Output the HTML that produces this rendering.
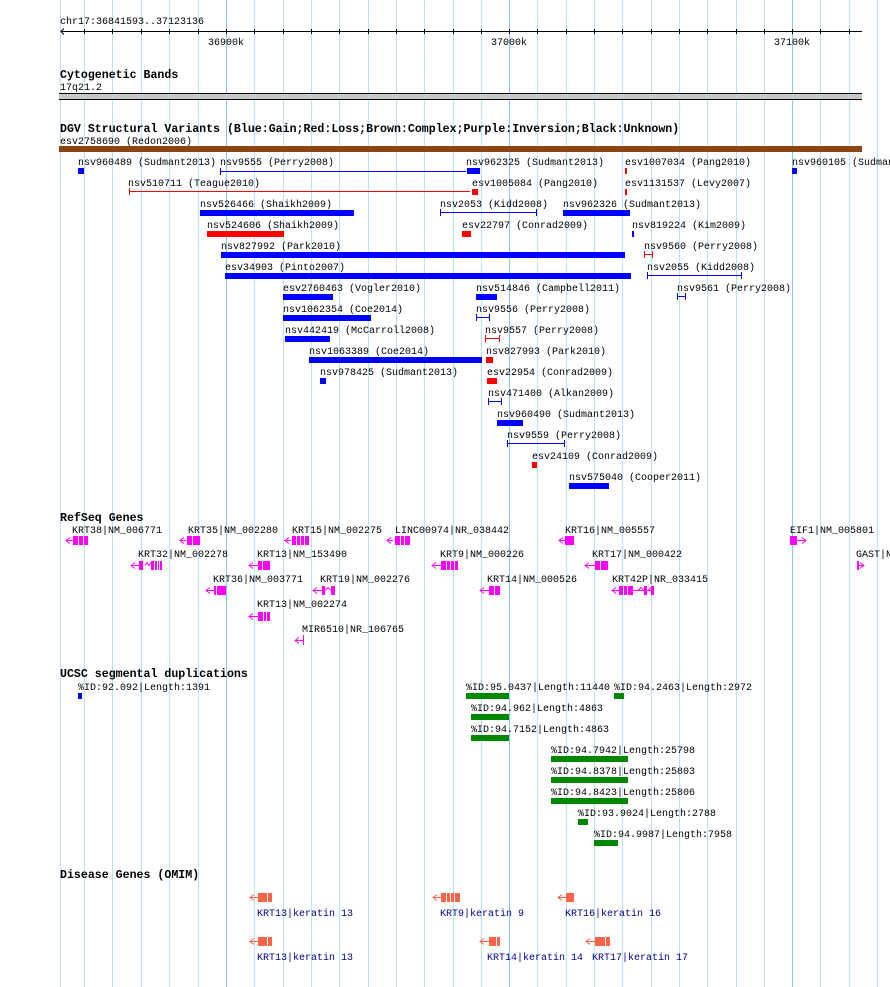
<!DOCTYPE html>
<html><head><meta charset="utf-8"><style>
html,body{margin:0;padding:0;background:#fff;}
svg{display:block;}
text{font-family:"Liberation Mono",monospace;font-size:10px;fill:#000;}
.b{font-weight:bold;font-size:11.6px;}
.d{fill:#00008b;}
</style></head><body>
<svg width="890" height="987" viewBox="0 0 890 987" xmlns="http://www.w3.org/2000/svg">
<g stroke="#b4e8ee" stroke-width="1">
<line x1="60.5" y1="0" x2="60.5" y2="987"/>
<line x1="84.5" y1="0" x2="84.5" y2="987"/><line x1="112.5" y1="0" x2="112.5" y2="987"/><line x1="141.5" y1="0" x2="141.5" y2="987"/><line x1="169.5" y1="0" x2="169.5" y2="987"/><line x1="198.5" y1="0" x2="198.5" y2="987"/>
<line x1="254.5" y1="0" x2="254.5" y2="987"/><line x1="283.5" y1="0" x2="283.5" y2="987"/><line x1="311.5" y1="0" x2="311.5" y2="987"/><line x1="339.5" y1="0" x2="339.5" y2="987"/><line x1="368.5" y1="0" x2="368.5" y2="987"/><line x1="396.5" y1="0" x2="396.5" y2="987"/><line x1="424.5" y1="0" x2="424.5" y2="987"/><line x1="453.5" y1="0" x2="453.5" y2="987"/><line x1="481.5" y1="0" x2="481.5" y2="987"/>
<line x1="537.5" y1="0" x2="537.5" y2="987"/><line x1="566.5" y1="0" x2="566.5" y2="987"/><line x1="594.5" y1="0" x2="594.5" y2="987"/><line x1="622.5" y1="0" x2="622.5" y2="987"/><line x1="651.5" y1="0" x2="651.5" y2="987"/><line x1="679.5" y1="0" x2="679.5" y2="987"/><line x1="707.5" y1="0" x2="707.5" y2="987"/><line x1="736.5" y1="0" x2="736.5" y2="987"/><line x1="764.5" y1="0" x2="764.5" y2="987"/>
<line x1="820.5" y1="0" x2="820.5" y2="987"/><line x1="849.5" y1="0" x2="849.5" y2="987"/><line x1="877.5" y1="0" x2="877.5" y2="987"/>
</g>
<g stroke="#88c8e8" stroke-width="1">
<line x1="226.5" y1="0" x2="226.5" y2="987"/><line x1="509.5" y1="0" x2="509.5" y2="987"/><line x1="792.5" y1="0" x2="792.5" y2="987"/>
</g>

<!-- ruler -->
<text x="60" y="24">chr17:36841593..37123136</text>
<g stroke="#000" stroke-width="1" fill="none">
<line x1="61" y1="31.5" x2="862" y2="31.5"/>
<path d="M64 28.5 L61 31.5 L64 34.5"/>
<path d="M84.5 29v5M112.5 29v5M141.5 29v5M169.5 29v5M198.5 29v5M226.5 29v5M254.5 29v5M283.5 29v5M311.5 29v5M339.5 29v5M368.5 29v5M396.5 29v5M424.5 29v5M453.5 29v5M481.5 29v5M509.5 29v5M537.5 29v5M566.5 29v5M594.5 29v5M622.5 29v5M651.5 29v5M679.5 29v5M707.5 29v5M736.5 29v5M764.5 29v5M792.5 29v5M820.5 29v5M849.5 29v5"/>
</g>
<text x="208" y="45">36900k</text><text x="491" y="45">37000k</text><text x="774" y="45">37100k</text>

<!-- cytogenetic -->
<text class="b" x="60" y="78">Cytogenetic Bands</text>
<text x="60" y="90">17q21.2</text>
<rect x="59" y="93" width="803" height="7" fill="#c8c8c8"/>
<line x1="59" y1="93.5" x2="862" y2="93.5" stroke="#000"/><line x1="59" y1="99.5" x2="862" y2="99.5" stroke="#000"/>

<!-- DGV -->
<text class="b" x="60" y="132">DGV Structural Variants (Blue:Gain;Red:Loss;Brown:Complex;Purple:Inversion;Black:Unknown)</text>
<text x="60" y="144">esv2758690 (Redon2006)</text>
<rect x="59" y="146" width="803" height="6" fill="#8b4513"/>

<g>
<text x="78" y="165">nsv960489 (Sudmant2013)</text><rect x="78" y="168" width="6" height="6" fill="#00f"/>
<text x="220" y="165">nsv9555 (Perry2008)</text>
<text x="466" y="165">nsv962325 (Sudmant2013)</text><rect x="467" y="168" width="13" height="6" fill="#00f"/>
<text x="625" y="165">esv1007034 (Pang2010)</text><rect x="625" y="168" width="2" height="6" fill="#f00"/>
<text x="792" y="165">nsv960105 (Sudmant2013)</text><rect x="792" y="168" width="5" height="6" fill="#00f"/>

<text x="128" y="186">nsv510711 (Teague2010)</text>
<text x="472" y="186">esv1005084 (Pang2010)</text><rect x="472" y="189" width="6" height="6" fill="#f00"/>
<text x="625" y="186">esv1131537 (Levy2007)</text><rect x="625" y="189" width="2" height="6" fill="#f00"/>

<text x="200" y="207">nsv526466 (Shaikh2009)</text><rect x="200" y="210" width="154" height="6" fill="#00f"/>
<text x="440" y="207">nsv2053 (Kidd2008)</text>
<text x="563" y="207">nsv962326 (Sudmant2013)</text><rect x="563" y="210" width="67" height="6" fill="#00f"/>

<text x="207" y="228">nsv524606 (Shaikh2009)</text><rect x="207" y="231" width="77" height="6" fill="#f00"/>
<text x="462" y="228">esv22797 (Conrad2009)</text><rect x="462" y="231" width="9" height="6" fill="#f00"/>
<text x="632" y="228">nsv819224 (Kim2009)</text><rect x="632" y="231" width="2" height="6" fill="#00f"/>

<text x="221" y="249">nsv827992 (Park2010)</text><rect x="221" y="252" width="404" height="6" fill="#00f"/>
<text x="644" y="249">nsv9560 (Perry2008)</text>

<text x="225" y="270">esv34903 (Pinto2007)</text><rect x="225" y="273" width="406" height="6" fill="#00f"/>
<text x="647" y="270">nsv2055 (Kidd2008)</text>

<text x="283" y="291">esv2760463 (Vogler2010)</text><rect x="283" y="294" width="50" height="6" fill="#00f"/>
<text x="476" y="291">nsv514846 (Campbell2011)</text><rect x="476" y="294" width="21" height="6" fill="#00f"/>
<text x="677" y="291">nsv9561 (Perry2008)</text>

<text x="283" y="312">nsv1062354 (Coe2014)</text><rect x="283" y="315" width="88" height="6" fill="#00f"/>
<text x="476" y="312">nsv9556 (Perry2008)</text>

<text x="285" y="333">nsv442419 (McCarroll2008)</text><rect x="285" y="336" width="45" height="6" fill="#00f"/>
<text x="485" y="333">nsv9557 (Perry2008)</text>

<text x="309" y="354">nsv1063389 (Coe2014)</text><rect x="309" y="357" width="173" height="6" fill="#00f"/>
<text x="486" y="354">nsv827993 (Park2010)</text><rect x="486" y="357" width="7" height="6" fill="#f00"/>

<text x="320" y="375">nsv978425 (Sudmant2013)</text><rect x="320" y="378" width="6" height="6" fill="#00f"/>
<text x="487" y="375">esv22954 (Conrad2009)</text><rect x="487" y="378" width="10" height="6" fill="#f00"/>

<text x="488" y="396">nsv471400 (Alkan2009)</text>
<text x="497" y="417">nsv960490 (Sudmant2013)</text><rect x="497" y="420" width="26" height="6" fill="#00f"/>
<text x="507" y="438">nsv9559 (Perry2008)</text>
<text x="532" y="459">esv24109 (Conrad2009)</text><rect x="532" y="462" width="5" height="6" fill="#f00"/>
<text x="569" y="480">nsv575040 (Cooper2011)</text><rect x="569" y="483" width="40" height="6" fill="#00f"/>
</g>
<!-- line features -->
<g stroke-width="1" fill="none">
<path stroke="#00f" d="M220 171.5H466M220.5 168v7"/>
<path stroke="#f00" d="M129 191.5H470M129.5 188v7"/>
<path stroke="#00f" d="M440 212.5H537M440.5 209v7M536.5 209v7"/>
<path stroke="#f00" d="M644 254.5H653M644.5 251v7M652.5 251v7"/>
<path stroke="#00f" d="M647 275.5H742M647.5 272v7M741.5 272v7"/>
<path stroke="#00f" d="M677 296.5H686M677.5 293v7M685.5 293v7"/>
<path stroke="#00f" d="M476 317.5H490M476.5 314v7M489.5 314v7"/>
<path stroke="#f00" d="M485 338.5H500M485.5 335v7M499.5 335v7"/>
<path stroke="#00f" d="M488 401.5H502M488.5 398v7M501.5 398v7"/>
<path stroke="#00f" d="M507 443.5H565M507.5 440v7M564.5 440v7"/>
</g>

<!-- RefSeq -->
<text class="b" x="60" y="521">RefSeq Genes</text>
<g>
<text x="72" y="533">KRT38|NM_006771</text><text x="188" y="533">KRT35|NM_002280</text><text x="292" y="533">KRT15|NM_002275</text><text x="395" y="533">LINC00974|NR_038442</text><text x="565" y="533">KRT16|NM_005557</text><text x="790" y="533">EIF1|NM_005801</text>
<text x="138" y="557">KRT32|NM_002278</text><text x="257" y="557">KRT13|NM_153490</text><text x="440" y="557">KRT9|NM_000226</text><text x="592" y="557">KRT17|NM_000422</text><text x="856" y="557">GAST|NM_000805</text>
<text x="213" y="582">KRT36|NM_003771</text><text x="320" y="582">KRT19|NM_002276</text><text x="487" y="582">KRT14|NM_000526</text><text x="612" y="582">KRT42P|NR_033415</text>
<text x="257" y="607">KRT13|NM_002274</text>
<text x="302" y="632">MIR6510|NR_106765</text>
</g>
<g stroke="#f0f" fill="none" stroke-width="1">
<path d="M70 537.5L66 540.5L70 543.5M66 540.5H73"/>
<path d="M184 537.5L180 540.5L184 543.5M180 540.5H186"/>
<path d="M289 537.5L285 540.5L289 543.5M285 540.5H291"/>
<path d="M391 537.5L387 540.5L391 543.5M387 540.5H393"/>
<path d="M563 537.5L559 540.5L563 543.5M559 540.5H565"/>
<path d="M802 537.5L806 540.5L802 543.5M790 540.5H806"/>
<path d="M135 562.5L131 565.5L135 568.5M131 565.5H139"/>
<path d="M253 562.5L249 565.5L253 568.5M249 565.5H258"/>
<path d="M436 562.5L432 565.5L436 568.5M432 565.5H441"/>
<path d="M589 562.5L585 565.5L589 568.5M585 565.5H595"/>
<path d="M860 562.5L864 565.5L860 568.5M857 565.5H864"/>
<path d="M210 587.5L206 590.5L210 593.5M206 590.5H214"/>
<path d="M317 587.5L313 590.5L317 593.5M313 590.5H322"/>
<path d="M484 587.5L480 590.5L484 593.5M480 590.5H489"/>
<path d="M616 587.5L612 590.5L616 593.5M612 590.5H654"/>
<path d="M253 613.5L249 616.5L253 619.5M249 616.5H258"/>
<path d="M299 637.5L295 640.5L299 643.5M295 640.5H304"/>
<path d="M145 565.5l2-3l2 3l2-3M638 590.5l3-3l3 3M648 590.5l3-3l3 3M325 590.5l3-3l3 3"/>
</g>
<g fill="#f0f">
<rect x="73" y="536" width="15" height="9"/>
<rect x="187" y="536" width="13" height="9"/>
<rect x="292" y="536" width="17" height="9"/>
<rect x="395" y="536" width="15" height="9"/>
<rect x="565" y="536" width="9" height="9"/>
<rect x="790" y="536" width="7" height="9"/>
<rect x="139" y="561" width="4" height="9"/><rect x="151" y="561" width="11" height="9"/>
<rect x="258" y="561" width="12" height="9"/>
<rect x="441" y="561" width="17" height="9"/>
<rect x="595" y="561" width="13" height="9"/>
<rect x="857" y="561" width="2" height="9"/>
<rect x="214" y="586" width="12" height="9"/>
<rect x="322" y="586" width="3" height="9"/><rect x="331" y="586" width="4" height="9"/>
<rect x="489" y="586" width="11" height="9"/>
<rect x="619" y="586" width="14" height="9"/><rect x="644" y="586" width="3" height="9"/><rect x="651" y="586" width="3" height="9"/>
<rect x="258" y="612" width="12" height="9"/>
<rect x="303" y="635" width="1" height="10"/>
</g>
<g stroke="#fff" stroke-width="1">
<path d="M78.5 536v9M83.5 536v9M192.5 536v9M296.5 536v9M300.5 536v9M304.5 536v9M400.5 536v9M404.5 536v9M154.5 561v9M157.5 561v9M159.5 561v9M262.5 561v9M446.5 561v9M450.5 561v9M454.5 561v9M600.5 561v9M216.5 586v9M494.5 586v9M623.5 586v9M627.5 586v9M263.5 612v9M266.5 612v9"/>
</g>

<!-- UCSC seg dups -->
<text class="b" x="60" y="677">UCSC segmental duplications</text>
<g>
<text x="78" y="690">%ID:92.092|Length:1391</text><rect x="78" y="693" width="4" height="6" fill="#00f"/>
<text x="466" y="690">%ID:95.0437|Length:11440</text><rect x="466" y="693" width="43" height="6" fill="#080"/>
<text x="614" y="690">%ID:94.2463|Length:2972</text><rect x="614" y="693" width="10" height="6" fill="#080"/>
<text x="471" y="711">%ID:94.962|Length:4863</text><rect x="471" y="714" width="38" height="6" fill="#080"/>
<text x="471" y="732">%ID:94.7152|Length:4863</text><rect x="471" y="735" width="38" height="6" fill="#080"/>
<text x="551" y="753">%ID:94.7942|Length:25798</text><rect x="551" y="756" width="77" height="6" fill="#080"/>
<text x="551" y="774">%ID:94.8378|Length:25803</text><rect x="551" y="777" width="77" height="6" fill="#080"/>
<text x="551" y="795">%ID:94.8423|Length:25806</text><rect x="551" y="798" width="77" height="6" fill="#080"/>
<text x="578" y="816">%ID:93.9024|Length:2788</text><rect x="578" y="819" width="10" height="6" fill="#080"/>
<text x="594" y="837">%ID:94.9987|Length:7958</text><rect x="594" y="840" width="24" height="6" fill="#080"/>
</g>

<!-- Disease -->
<text class="b" x="60" y="878">Disease Genes (OMIM)</text>
<g>
<text class="d" x="257" y="916">KRT13|keratin 13</text><text class="d" x="440" y="916">KRT9|keratin 9</text><text class="d" x="565" y="916">KRT16|keratin 16</text>
<text class="d" x="257" y="960">KRT13|keratin 13</text><text class="d" x="487" y="960">KRT14|keratin 14</text><text class="d" x="592" y="960">KRT17|keratin 17</text>
</g>
<g stroke="#ff6347" fill="none">
<path d="M254 894.5L250 897.5L254 900.5M250 897.5H258"/>
<path d="M437 894.5L433 897.5L437 900.5M433 897.5H441"/>
<path d="M562 894.5L558 897.5L562 900.5M558 897.5H566"/>
<path d="M254 938.5L250 941.5L254 944.5M250 941.5H258"/>
<path d="M484 938.5L480 941.5L484 944.5M480 941.5H489"/>
<path d="M590 938.5L586 941.5L590 944.5M586 941.5H595"/>
</g>
<g fill="#ff6347">
<rect x="258" y="893" width="14" height="9"/><rect x="441" y="893" width="19" height="9"/><rect x="566" y="893" width="8" height="9"/>
<rect x="258" y="937" width="14" height="9"/><rect x="489" y="937" width="11" height="9"/><rect x="595" y="937" width="15" height="9"/>
</g>
<g stroke="#fff"><path d="M267.5 893v9M446.5 893v9M450.5 893v9M454.5 893v9M267.5 937v9M496.5 937v9M605.5 937v9"/></g>
</svg>
</body></html>
